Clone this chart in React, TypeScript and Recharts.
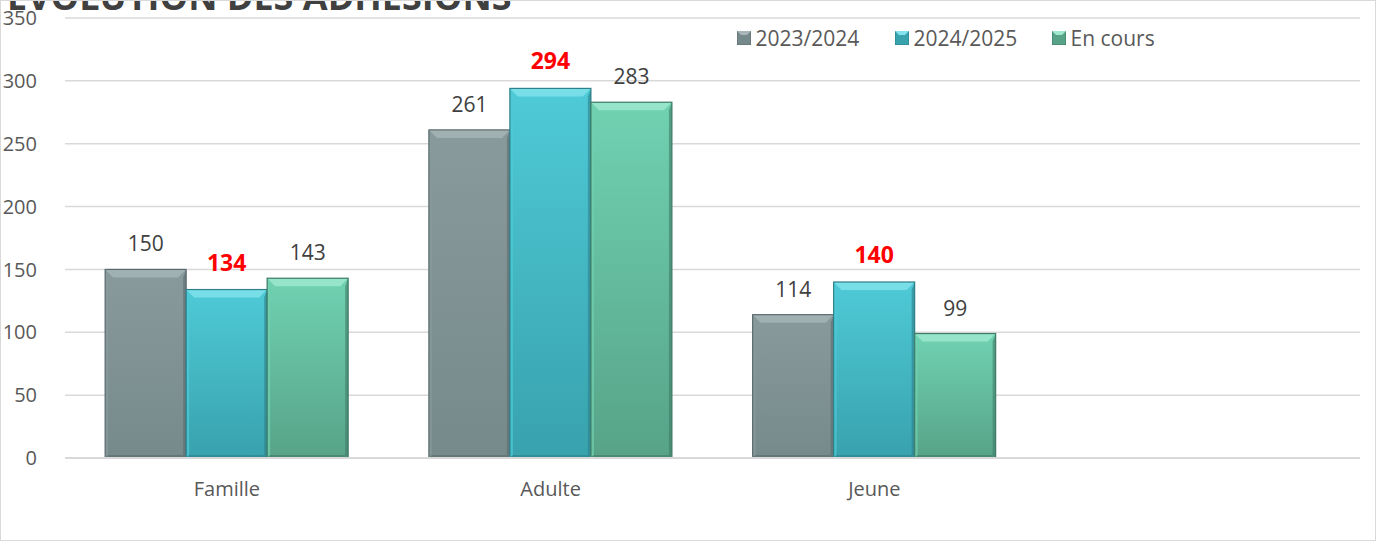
import React from "react";
import {
  BarChart,
  Bar,
  XAxis,
  YAxis,
  CartesianGrid,
  LabelList,
  Legend
} from "recharts";

// données
const categories = ["Famille", "Adulte", "Jeune", ""];
const saison2023 = [150, 261, 114, null];
const saison2024 = [134, 294, 140, null];
const enCours = [143, 283, 99, null];
const yTicks = [0, 50, 100, 150, 200, 250, 300, 350];

const data = categories.map((name, i) => ({
  name,
  s2023: saison2023[i],
  s2024: saison2024[i],
  cours: enCours[i]
}));

const palette: Record<string, { top: string; bottom: string; bevel: string; edge: string }> = {
  s2023: { top: "#899a9c", bottom: "#76898b", bevel: "#a8b6b8", edge: "#5b6b6d" },
  s2024: { top: "#4fcad7", bottom: "#38a2ad", bevel: "#82e3ec", edge: "#2d7f89" },
  cours: { top: "#70d2b2", bottom: "#57a388", bevel: "#a0e8d0", edge: "#3f7c67" }
};

const FONT = "'Open Sans', 'Noto Sans', sans-serif";

const BevelBar = (key: string) => (props: any) => {
  const { x, y, width, height } = props;
  if (!height || height <= 0) return null;
  const c = palette[key];
  const b = Math.min(8, height / 2);
  const s = 3;
  return (
    <g>
      <rect x={x} y={y} width={width} height={height} fill={`url(#grad-${key})`} />
      {/* biseau haut */}
      <polygon
        points={`${x},${y} ${x + width},${y} ${x + width - b},${y + b} ${x + b},${y + b}`}
        fill={c.bevel}
        opacity={0.8}
      />
      {/* côtés */}
      <polygon
        points={`${x},${y} ${x + s},${y + b} ${x + s},${y + height - s} ${x},${y + height}`}
        fill={c.top}
        opacity={0.7}
      />
      <polygon
        points={`${x + width},${y} ${x + width - s},${y + b} ${x + width - s},${y + height - s} ${x + width},${y + height}`}
        fill={c.edge}
        opacity={0.6}
      />
      <polygon
        points={`${x},${y + height} ${x + s},${y + height - s} ${x + width - s},${y + height - s} ${x + width},${y + height}`}
        fill={c.edge}
        opacity={0.6}
      />
      <rect x={x} y={y} width={width} height={height} fill="none" stroke={c.edge} strokeWidth={1.2} />
    </g>
  );
};

const LegendContent = () => {
  const items = [
    { key: "s2023", label: "2023/2024", w: 158 },
    { key: "s2024", label: "2024/2025", w: 157 },
    { key: "cours", label: "En cours", w: 110 }
  ];
  return (
    <div style={{ display: "flex", fontFamily: FONT, fontSize: 21, color: "#595959" }}>
      {items.map((it) => (
        <div key={it.key} style={{ display: "flex", alignItems: "center", width: it.w }}>
          <svg width={14} height={14} style={{ marginRight: 5 }}>
            <rect x={0} y={0} width={14} height={14} fill={palette[it.key].bottom} stroke={palette[it.key].edge} />
            <polygon points="0,0 14,0 10,4 4,4" fill={palette[it.key].bevel} />
          </svg>
          <span>{it.label}</span>
        </div>
      ))}
    </div>
  );
};

export default function App() {
  return (
    <div
      style={{
        position: "absolute",
        left: 0,
        top: 0,
        width: 1376,
        height: 541,
        boxSizing: "border-box",
        border: "1.5px solid #d9d9d9",
        background: "#fff",
        overflow: "hidden",
        fontFamily: FONT
      }}
    >
      <div
        style={{
          position: "absolute",
          left: 6,
          top: -28,
          fontSize: 36,
          fontWeight: 700,
          color: "#404040",
          whiteSpace: "nowrap",
          lineHeight: "48px"
        }}
      >
        ÉVOLUTION DES ADHÉSIONS
      </div>
      <BarChart
        width={1376}
        height={541}
        data={data}
        margin={{ top: 18, right: 16, bottom: 43, left: 0 }}
        barCategoryGap="12.4%"
        barGap={0}
        style={{ position: "absolute", left: -1.5, top: -1.5 }}
      >
        <defs>
          {Object.keys(palette).map((k) => (
            <linearGradient key={k} id={`grad-${k}`} x1="0" y1="0" x2="0" y2="1">
              <stop offset="0%" stopColor={palette[k].top} />
              <stop offset="100%" stopColor={palette[k].bottom} />
            </linearGradient>
          ))}
        </defs>
        <CartesianGrid vertical={false} stroke="#d9d9d9" strokeWidth={1.5} />
        <XAxis
          dataKey="name"
          height={40}
          tickLine={false}
          axisLine={{ stroke: "#d9d9d9", strokeWidth: 2 }}
          tick={{ fill: "#595959", fontSize: 20, fontFamily: FONT }}
          tickMargin={18}
          interval={0}
        />
        <YAxis
          width={65}
          domain={[0, 350]}
          ticks={yTicks}
          tickLine={false}
          axisLine={false}
          tickSize={0}
          tickMargin={28}
          tick={{ fill: "#595959", fontSize: 20, fontFamily: FONT }}
        />
        <Legend
          layout="horizontal"
          verticalAlign="middle"
          align="center"
          content={<LegendContent />}
          wrapperStyle={{ top: 24, left: 737, width: 450, height: 28 }}
        />
        <Bar dataKey="s2023" name="2023/2024" isAnimationActive={false} shape={BevelBar("s2023")}>
          <LabelList
            dataKey="s2023"
            position="top"
            offset={18}
            fill="#404040"
            fontSize={21}
            fontFamily={FONT}
          />
        </Bar>
        <Bar dataKey="s2024" name="2024/2025" isAnimationActive={false} shape={BevelBar("s2024")}>
          <LabelList
            dataKey="s2024"
            position="top"
            offset={19}
            fill="#ff0000"
            fontSize={23}
            fontWeight={700}
            fontFamily={FONT}
          />
        </Bar>
        <Bar dataKey="cours" name="En cours" isAnimationActive={false} shape={BevelBar("cours")}>
          <LabelList
            dataKey="cours"
            position="top"
            offset={18}
            fill="#404040"
            fontSize={21}
            fontFamily={FONT}
          />
        </Bar>
      </BarChart>
    </div>
  );
}
